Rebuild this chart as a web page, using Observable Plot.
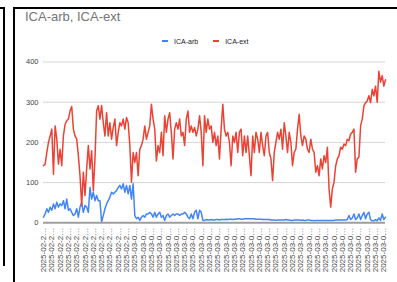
<!DOCTYPE html>
<html><head><meta charset="utf-8">
<script src="https://cdn.jsdelivr.net/npm/d3@7"></script>
<script src="https://cdn.jsdelivr.net/npm/@observablehq/plot@0.6"></script>
<style>
html,body{margin:0;padding:0;background:#fff;}
#wrap{position:relative;width:397px;height:282px;overflow:hidden;font-family:"Liberation Sans",Arial,sans-serif;}
.b{position:absolute;background:#000;}
#title{position:absolute;left:25px;top:10px;font-size:13px;line-height:13px;color:#757575;white-space:nowrap;}
#legend{position:absolute;left:162px;top:37px;height:8px;display:flex;align-items:center;font-size:7px;color:#222;white-space:nowrap;}
.sw{display:inline-block;width:6px;height:2.5px;margin-right:6px;}
.item{display:flex;align-items:center;margin-right:15px;}
#chart{position:absolute;left:0;top:50px;}
</style>
</head><body>
<div id="wrap">
  <div class="b" style="left:0;top:7px;width:5px;height:2px"></div>
  <div class="b" style="left:3px;top:7px;width:2px;height:259px"></div>
  <div class="b" style="left:13px;top:7px;width:384px;height:2px"></div>
  <div class="b" style="left:13px;top:7px;width:2px;height:275px"></div>
  <div id="title"></div>
  <div id="legend"></div>
  <div id="chart"></div>
</div>
<script>
const titleText = "ICA-arb, ICA-ext";
const seriesNames = ["ICA-arb", "ICA-ext"];
const seriesColors = ["#4285f4", "#ea4335"];
const yTicks = [0, 100, 200, 300, 400];

// ICA-arb values, one per time point
const arbValues = [
  14,22,35,26,39,31,47,35,51,39,
  47,43,55,35,59,31,35,26,18,22,
  35,14,39,51,26,43,39,26,88,59,
  76,55,68,55,55,2,18,35,47,55,
  64,76,72,76,80,88,93,84,97,76,
  93,72,93,59,97,18,10,14,6,14,
  18,14,22,22,26,22,14,26,14,22,
  26,14,18,6,18,22,14,18,22,18,
  22,22,18,22,22,26,22,14,10,22,
  10,26,31,10,31,26,6,6,8,7,
  7,8,7,7,8,8,7,8,8,8,
  9,8,9,9,8,9,9,10,10,9,
  9,10,10,10,10,10,10,10,9,9,
  9,9,8,8,8,8,8,7,7,7,
  6,7,7,7,7,7,8,7,7,6,
  6,7,7,7,7,6,7,6,6,7,
  7,6,6,5,6,6,6,6,6,6,
  6,6,6,6,6,6,7,7,7,7,
  7,7,7,8,18,8,12,22,8,12,
  22,8,18,26,10,22,26,8,5,5,
  8,5,12,6,22,8,14
];

// ICA-ext values, one per time point
const extValues = [
  142,146,175,200,216,233,121,241,208,146,
  183,142,217,245,254,258,278,289,233,216,
  208,167,117,43,126,68,134,192,134,179,
  80,159,278,291,258,292,249,216,274,216,
  249,208,237,258,192,225,249,241,258,233,
  262,249,192,101,175,150,175,117,183,192,
  208,241,208,225,241,295,258,233,154,192,
  175,225,167,266,225,258,274,225,159,233,
  249,233,258,216,225,192,258,278,225,241,
  225,237,216,233,266,225,142,266,225,258,
  233,241,200,225,192,216,159,233,295,233,
  216,225,200,142,216,200,225,175,225,233,
  167,216,175,216,167,117,216,175,225,208,
  175,225,192,167,216,225,175,159,105,175,
  200,225,208,233,183,249,216,175,225,200,
  142,175,183,233,270,216,192,216,208,183,
  175,208,183,175,126,142,117,159,134,167,
  150,188,84,39,84,101,142,159,167,188,
  183,196,192,208,204,221,225,233,126,159,
  163,241,258,291,299,303,316,299,332,316,
  340,300,377,350,366,340,356
];

// x tick labels (every 5th time point), as displayed (truncated)
const xTickLabels = [
  ...Array(11).fill("2025-02-2…"),
  ...Array(31).fill("2025-03-0…")
];
const labelEvery = 5;

document.getElementById("title").textContent = titleText;
const leg = document.getElementById("legend");
seriesNames.forEach((name, k) => {
  const it = document.createElement("span");
  it.className = "item";
  const sw = document.createElement("span");
  sw.className = "sw";
  sw.style.background = seriesColors[k];
  it.appendChild(sw);
  it.appendChild(document.createTextNode(name));
  leg.appendChild(it);
});

const n = Math.max(arbValues.length, extValues.length);
const tickIdx = xTickLabels.map((_, k) => k * labelEvery);

const chart = Plot.plot({
  width: 397,
  height: 232,
  marginLeft: 43,
  marginRight: 12,
  marginTop: 11.5,
  marginBottom: 59.7,
  style: {fontFamily: "'Liberation Sans', Arial, sans-serif", background: "transparent", overflow: "visible"},
  x: {domain: [0, n - 1]},
  y: {domain: [0, 400]},
  marks: [
    Plot.ruleY(yTicks.filter(t => t > 0), {stroke: "#d6d6d6", strokeWidth: 1}),
    Plot.axisY(yTicks, {tickSize: 0, tickPadding: 5, fontSize: 7.5, fill: "#444", label: null}),
    Plot.axisX(tickIdx, {
      tickSize: 0, tickPadding: 5, tickRotate: -90, fontSize: 8, fill: "#444", label: null,
      tickFormat: d => xTickLabels[d / labelEvery]
    }),
    Plot.line(arbValues, {x: (d, i) => i, y: d => d, stroke: seriesColors[0], strokeWidth: 1.5}),
    Plot.line(extValues, {x: (d, i) => i, y: d => d, stroke: seriesColors[1], strokeWidth: 1.5}),
    Plot.ruleY([0], {stroke: "#9e9e9e", strokeWidth: 2})
  ]
});
document.getElementById("chart").appendChild(chart);
</script>
</body></html>
